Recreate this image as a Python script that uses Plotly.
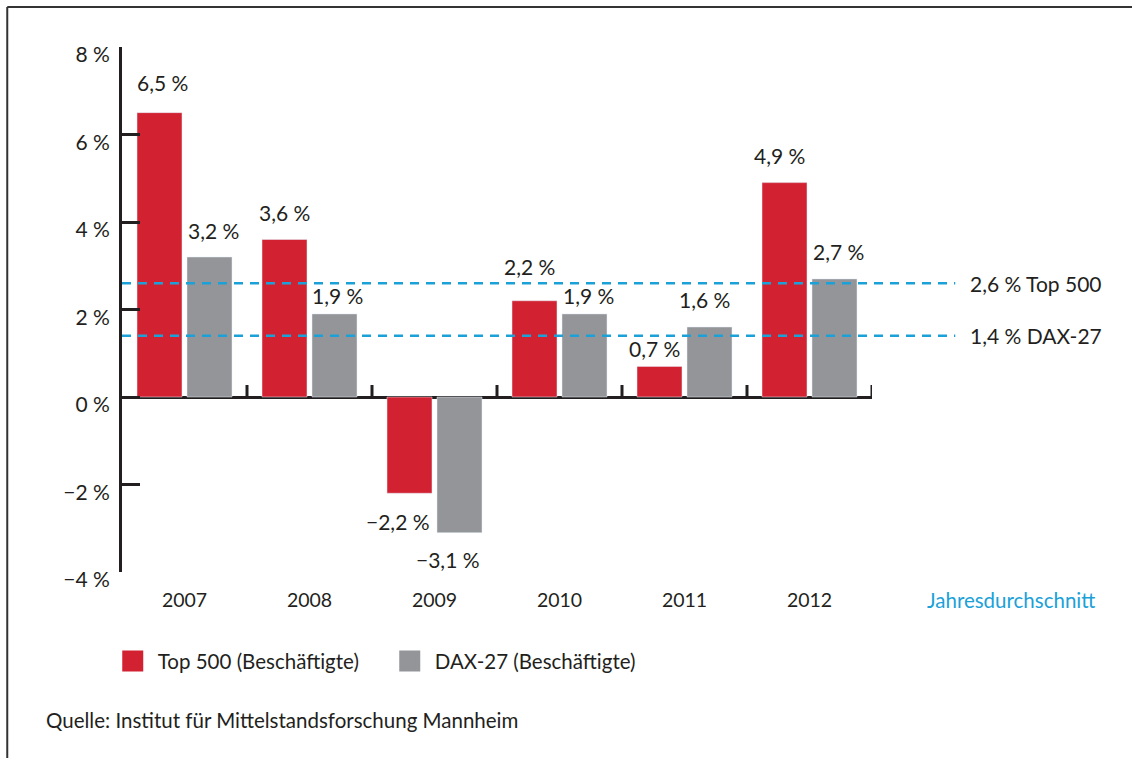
import plotly.graph_objects as go

# ---------------- data ----------------
years = ["2007", "2008", "2009", "2010", "2011", "2012"]
top500 = [6.5, 3.6, -2.2, 2.2, 0.7, 4.9]
dax27 = [3.2, 1.9, -3.1, 1.9, 1.6, 2.7]
avg_top500 = 2.6
avg_dax27 = 1.4
y_ticks = [-4, -2, 0, 2, 4, 6, 8]
series_names = ["Top 500 (Beschäftigte)", "DAX-27 (Beschäftigte)"]
avg_names = ["Top 500", "DAX-27"]
x_title = "Jahresdurchschnitt"
source = "Quelle: Institut für Mittelstandsforschung Mannheim"

# ---------------- style ----------------
RED = "#D22232"
GRAY = "#939598"
BLUE = "#1BA1D8"
INK = "#231F20"
FONT = "Lato"

# per-label pixel offsets (text centre relative to bar end), style only
top_dy = [-30, -27, 28, -34, -18, -27]
dax_dy = [-27, -18, 27, -18, -28, -27]
top_dx = [3, 0, -12, -5, -5, -5]
dax_dx = [4, 3, -12, 4, -5, 4]


def fmt(v):
    return f"{v:.1f}".replace(".", ",").replace("-", "\u2212") + " %"


def tick_fmt(v):
    return f"{v}".replace("-", "\u2212") + " %"


fig = go.Figure()
fig.add_trace(go.Bar(x=years, y=top500, name=series_names[0], marker_color=RED,
                     showlegend=False, hoverinfo="skip"))
fig.add_trace(go.Bar(x=years, y=dax27, name=series_names[1], marker_color=GRAY,
                     showlegend=False, hoverinfo="skip"))
# legend swatches (no visible points)
for nm, col in zip(series_names, [RED, GRAY]):
    fig.add_trace(go.Scatter(x=[years[0]], y=[None], mode="markers", name=nm,
                             hoverinfo="skip",
                             marker=dict(symbol="square", size=16, color=col,
                                         line=dict(color=col, width=5))))

ymin, ymax = min(y_ticks), max(y_ticks)

annotations = []
for i, yr in enumerate(years):
    for vals, dxs, dys, side in ((top500, top_dx, top_dy, -25), (dax27, dax_dx, dax_dy, 25)):
        v = vals[i]
        annotations.append(dict(
            x=i, y=v, xref="x", yref="y", text=fmt(v), showarrow=False,
            xshift=side + dxs[i], yshift=-dys[i], xanchor="center", yanchor="middle",
            font=dict(family=FONT, size=21, color=INK)))

# average labels
for val, nm in ((avg_top500, avg_names[0]), (avg_dax27, avg_names[1])):
    annotations.append(dict(
        x=1.128, y=val, xref="paper", yref="y", text=f"{fmt(val)} {nm}",
        showarrow=False, xanchor="left", yanchor="middle",
        font=dict(family=FONT, size=21, color=INK)))

annotations.append(dict(x=1.3, y=-0.053, xref="paper", yref="paper", text=x_title,
                        showarrow=False, xanchor="right", yanchor="middle",
                        font=dict(family=FONT, size=20.5, color=BLUE)))
annotations.append(dict(x=-0.104, y=-0.282, xref="paper", yref="paper", text=source,
                        showarrow=False, xanchor="left", yanchor="middle",
                        font=dict(family=FONT, size=20.5, color=INK)))

shapes = []
# average lines
for val in (avg_top500, avg_dax27):
    shapes.append(dict(type="line", xref="paper", yref="y", x0=0, x1=1.111,
                       y0=val, y1=val, line=dict(color=BLUE, width=2.5, dash="9px,7px"),
                       layer="above"))
# category boundary ticks on the zero line
for i in range(len(years)):
    shapes.append(dict(type="line", xref="x", yref="y", ysizemode="pixel", yanchor=0,
                       x0=i + 0.5, x1=i + 0.5, y0=0, y1=12,
                       line=dict(color=INK, width=3), layer="above"))
# outer frame (top + left)
shapes.append(dict(type="line", xref="paper", yref="paper", x0=-0.153, x1=1.4,
                   y0=1.076, y1=1.076, line=dict(color="#333333", width=2)))
shapes.append(dict(type="line", xref="paper", yref="paper", x0=-0.153, x1=-0.153,
                   y0=1.076, y1=-0.4, line=dict(color="#333333", width=2)))

fig.update_layout(
    width=1132, height=758,
    margin=dict(l=122, r=260, t=47, b=186),
    paper_bgcolor="white", plot_bgcolor="white",
    barmode="group", bargap=0.2, bargroupgap=0.1,
    font=dict(family=FONT, size=21, color=INK),
    xaxis=dict(type="category", categoryorder="array", categoryarray=years,
               range=[-0.5, len(years) - 0.5],
               showline=False, ticks="", showgrid=False, zeroline=False,
               tickfont=dict(family=FONT, size=19.5, color=INK),
               ticklabelstandoff=14),
    yaxis=dict(range=[ymin, ymax], tickvals=y_ticks,
               ticktext=[tick_fmt(v) for v in y_ticks],
               ticks="inside", ticklen=18, tickwidth=3, tickcolor=INK,
               showline=True, linewidth=3, linecolor=INK,
               zeroline=True, zerolinewidth=3, zerolinecolor=INK,
               showgrid=False, ticklabelstandoff=5, ticklabelshift=8,
               tickfont=dict(family=FONT, size=21, color=INK)),
    legend=dict(orientation="h", x=-0.019, y=-0.17, xanchor="left", yanchor="middle",
                font=dict(family=FONT, size=20.5, color=INK),
                entrywidth=222, itemwidth=40, bgcolor="rgba(0,0,0,0)"),
    annotations=annotations,
    shapes=shapes,
)

fig.write_html("out.html", config={"displayModeBar": False},
               post_script="document.body.style.margin='0px';")
